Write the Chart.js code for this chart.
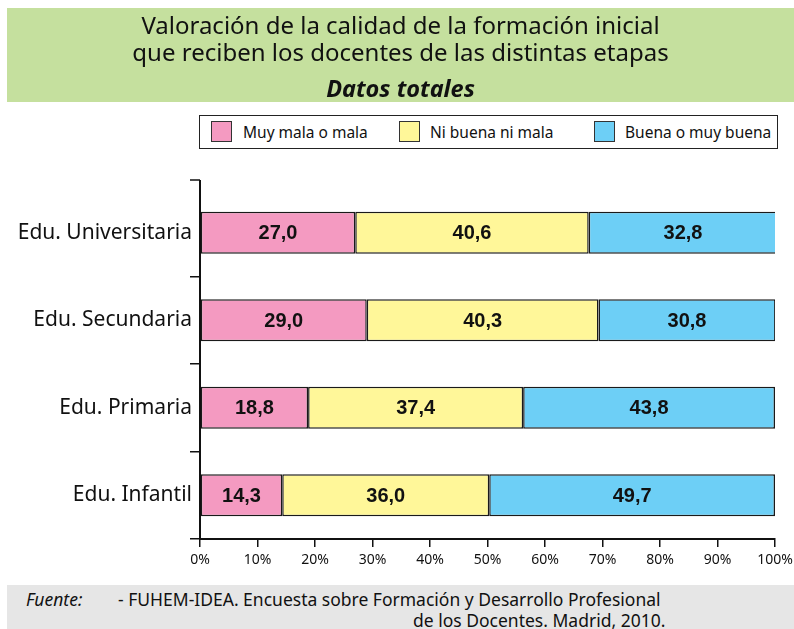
<!DOCTYPE html>
<html>
<head>
<meta charset="utf-8">
<script src="https://cdn.jsdelivr.net/npm/chart.js@4.4.1/dist/chart.umd.min.js"></script>
<style>
  html, body { margin: 0; padding: 0; background: #fff; }
  #wrap { position: relative; width: 794px; height: 629px; overflow: hidden; font-family: "Noto Sans", sans-serif; }
  #chart { position: absolute; left: 0; top: 0; }
  .header { position: absolute; left: 7px; top: 8px; width: 787px; height: 94px; background: #c5e09e; text-align: center; color: #111; }
  .header .t1 { position: absolute; left: 0; right: 0; top: 3px; font-size: 24px; line-height: 27px; }
  .header .t2 { position: absolute; left: 0; right: 0; top: 64px; font-size: 23.5px; font-weight: bold; font-style: italic; }
  .legend { position: absolute; left: 199px; top: 115px; width: 577px; height: 32px; border: 1.5px solid #222; background: #fff; font-size: 15.5px; color: #111; }
  .legend span { position: absolute; top: 5px; }
  .legend i { position: absolute; top: 5px; width: 21px; height: 21px; border: 1.5px solid #333; box-sizing: border-box; }
  .footer { position: absolute; left: 7px; top: 585px; width: 787px; height: 44px; background: #e6e6e6; font-size: 17.5px; color: #111; }
  .footer span { position: absolute; white-space: nowrap; }
</style>
</head>
<body>
<div id="wrap">
  <canvas id="chart" width="794" height="629"></canvas>
  <div class="header">
    <div class="t1">Valoración de la calidad de la formación inicial<br>que reciben los docentes de las distintas etapas</div>
    <div class="t2">Datos totales</div>
  </div>
  <div class="legend" id="legend"></div>
  <div class="footer">
    <span style="left:19px; top:2px; font-style:italic;">Fuente:</span>
    <span style="left:111px; top:2px;">- FUHEM-IDEA. Encuesta sobre Formación y Desarrollo Profesional</span>
    <span style="left:406px; top:23px;">de los Docentes. Madrid, 2010.</span>
  </div>
</div>
<script>
const categories = ['Edu. Universitaria', 'Edu. Secundaria', 'Edu. Primaria', 'Edu. Infantil'];
const seriesNames = ['Muy mala o mala', 'Ni buena ni mala', 'Buena o muy buena'];
const muyMala = [27.0, 29.0, 18.8, 14.3];
const niBuena = [40.6, 40.3, 37.4, 36.0];
const buena = [32.8, 30.8, 43.8, 49.7];
const colors = ['#f49ac1', '#fff799', '#6dcff6'];
const xTicks = [0, 10, 20, 30, 40, 50, 60, 70, 80, 90, 100];

// legend (html)
const legendPos = [{ box: 11, text: 43 }, { box: 199, text: 230 }, { box: 394, text: 425 }];
const legend = document.getElementById('legend');
seriesNames.forEach((name, i) => {
  const sw = document.createElement('i');
  sw.style.left = legendPos[i].box + 'px';
  sw.style.background = colors[i];
  legend.appendChild(sw);
  const lbl = document.createElement('span');
  lbl.style.left = legendPos[i].text + 'px';
  lbl.textContent = name;
  legend.appendChild(lbl);
});

// values written in the middle of each segment
const barLabels = {
  id: 'barLabels',
  afterDatasetsDraw(chart) {
    const ctx = chart.ctx;
    ctx.save();
    ctx.font = 'bold 20px "Liberation Sans", Arial, sans-serif';
    ctx.fillStyle = '#111';
    ctx.textAlign = 'center';
    ctx.textBaseline = 'middle';
    chart.data.datasets.forEach((ds, i) => {
      chart.getDatasetMeta(i).data.forEach((bar, j) => {
        const cx = (bar.x + bar.base) / 2;
        ctx.fillText(ds.data[j].toFixed(1).replace('.', ','), cx, bar.y + 1);
      });
    });
    ctx.restore();
  }
};

// the y axis line goes a little above the first category, with a tick there
const axisTop = {
  id: 'axisTop',
  afterDraw(chart) {
    const y = chart.scales.y;
    const ctx = chart.ctx;
    ctx.save();
    ctx.strokeStyle = '#111';
    ctx.lineWidth = 2;
    ctx.beginPath();
    ctx.moveTo(y.right, y.top + 1);
    ctx.lineTo(y.right, y.top - 9);
    ctx.stroke();
    ctx.clearRect(y.right - 11, y.top - 1.5, 10, 3);
    ctx.lineWidth = 1.5;
    ctx.beginPath();
    ctx.moveTo(y.right - 10, y.top - 9);
    ctx.lineTo(y.right, y.top - 9);
    ctx.stroke();
    ctx.restore();
  }
};

const allData = [muyMala, niBuena, buena];

new Chart(document.getElementById('chart'), {
  type: 'bar',
  data: {
    labels: categories,
    datasets: seriesNames.map((name, i) => ({
      label: name,
      data: allData[i],
      backgroundColor: colors[i],
      borderColor: '#1a1a1a',
      borderWidth: 1.5,
      borderSkipped: false,
      barPercentage: 0.96,
      categoryPercentage: 0.5,
    })),
  },
  plugins: [barLabels, axisTop],
  options: {
    indexAxis: 'y',
    responsive: false,
    animation: false,
    layout: { padding: { left: 0, top: 189, right: 19, bottom: 60 } },
    plugins: {
      legend: { display: false },
      tooltip: { enabled: false },
    },
    scales: {
      x: {
        stacked: true,
        min: 0,
        max: 100,
        afterBuildTicks: (axis) => { axis.ticks = xTicks.map(v => ({ value: v })); },
        afterFit: (axis) => {
          axis.height = 30;
          axis.paddingLeft = 0;
          axis.paddingRight = 0;
        },
        border: { color: '#111', width: 2 },
        grid: { drawOnChartArea: false, color: '#111', lineWidth: 1.5, tickLength: 8 },
        ticks: {
          color: '#111',
          padding: 5,
          font: { family: 'Noto Sans', size: 14 },
          callback: (v) => v + '%',
        },
      },
      y: {
        stacked: true,
        afterFit: (axis) => { axis.width = 200; },
        border: { color: '#111', width: 2 },
        grid: { drawOnChartArea: false, color: '#111', lineWidth: 1.5, tickLength: 10, offset: true },
        ticks: {
          color: '#111',
          padding: -2,
          font: { family: 'Noto Sans', size: 21 },
        },
      },
    },
  },
});
</script>
</body>
</html>
